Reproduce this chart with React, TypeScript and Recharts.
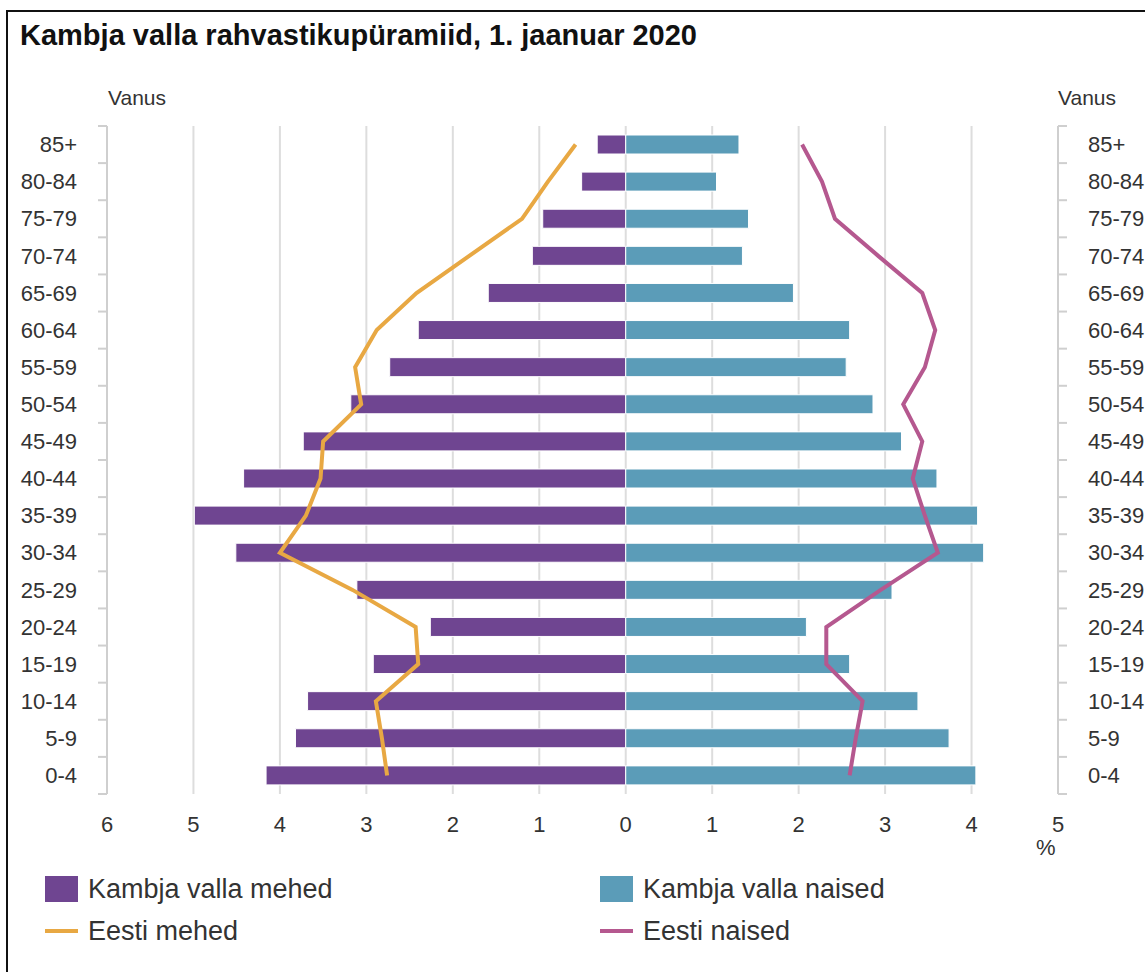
import React from 'react'
import { ComposedChart, Bar, Line, XAxis, YAxis, CartesianGrid } from 'recharts'

const ageGroups = [
  '85+', '80-84', '75-79', '70-74', '65-69', '60-64', '55-59', '50-54', '45-49',
  '40-44', '35-39', '30-34', '25-29', '20-24', '15-19', '10-14', '5-9', '0-4',
]
// Kambja vald, % of population
const kambjaMen = [0.33, 0.51, 0.96, 1.08, 1.59, 2.4, 2.73, 3.18, 3.73, 4.42, 4.99, 4.51, 3.11, 2.26, 2.92, 3.68, 3.82, 4.16]
const kambjaWomen = [1.31, 1.05, 1.42, 1.35, 1.94, 2.59, 2.55, 2.86, 3.19, 3.6, 4.07, 4.14, 3.08, 2.09, 2.59, 3.38, 3.74, 4.05]
// Eesti (whole country), % of population
const estoniaMen = [0.58, 0.9, 1.2, 1.81, 2.42, 2.88, 3.13, 3.06, 3.5, 3.53, 3.7, 4.0, 3.16, 2.43, 2.4, 2.89, 2.82, 2.76]
const estoniaWomen = [2.04, 2.27, 2.42, 2.92, 3.43, 3.58, 3.46, 3.21, 3.43, 3.32, 3.46, 3.61, 2.95, 2.32, 2.32, 2.74, 2.66, 2.59]
const xTicks = [-6, -5, -4, -3, -2, -1, 0, 1, 2, 3, 4, 5]

const PURPLE = '#6f4591'
const BLUE = '#5b9cb8'
const ORANGE = '#e8a843'
const PINK = '#b5588f'
const TEXT = '#333'
const AXIS = '#cfcfcf'

const W = 1145
const H = 972
const TOP = 126
const PLOT_BOTTOM = 794
const BAND = (PLOT_BOTTOM - TOP) / ageGroups.length

const data = ageGroups.map((age, i) => ({
  age,
  men: -kambjaMen[i],
  women: kambjaWomen[i],
  eMen: -estoniaMen[i],
  eWomen: estoniaWomen[i],
}))

function AgeTick(props: any) {
  const { x, y, payload, index, side } = props
  const dir = side === 'left' ? -1 : 1
  const half = BAND / 2
  const last = index === ageGroups.length - 1
  return (
    <g>
      <line x1={x} x2={x + dir * 9} y1={y - half} y2={y - half} stroke={AXIS} strokeWidth={2} />
      {last && <line x1={x} x2={x + dir * 9} y1={y + half} y2={y + half} stroke={AXIS} strokeWidth={2} />}
      <text
        x={x + dir * 30}
        y={y}
        dy="0.35em"
        textAnchor={side === 'left' ? 'end' : 'start'}
        fontSize={22}
        fill={TEXT}
      >
        {payload.value}
      </text>
    </g>
  )
}

const legendItems = [
  { label: 'Kambja valla mehed', color: PURPLE, kind: 'box', left: 45, top: 875 },
  { label: 'Kambja valla naised', color: BLUE, kind: 'box', left: 600, top: 875 },
  { label: 'Eesti mehed', color: ORANGE, kind: 'line', left: 45, top: 917 },
  { label: 'Eesti naised', color: PINK, kind: 'line', left: 600, top: 917 },
]

export default function App() {
  return (
    <div
      style={{
        position: 'absolute',
        left: 0,
        top: 0,
        width: W,
        height: H,
        overflow: 'hidden',
        background: '#fff',
        fontFamily: '"Liberation Sans", Arial, sans-serif',
        color: TEXT,
      }}
    >
      <div
        style={{
          position: 'absolute',
          left: 6,
          top: 10,
          width: 1200,
          height: 1000,
          border: '2px solid #111',
        }}
      />
      <div style={{ position: 'absolute', left: 20, top: 19, fontSize: 29, fontWeight: 'bold', color: '#111' }}>
        Kambja valla rahvastikupüramiid, 1. jaanuar 2020
      </div>
      <div style={{ position: 'absolute', left: 108, top: 86, fontSize: 21 }}>Vanus</div>
      <div style={{ position: 'absolute', left: 1058, top: 86, fontSize: 21 }}>Vanus</div>

      <div style={{ position: 'absolute', left: 0, top: 0 }}>
        <ComposedChart
          width={W}
          height={H}
          data={data}
          layout="vertical"
          stackOffset="sign"
          margin={{ top: TOP, right: 0, bottom: H - PLOT_BOTTOM - 40, left: 0 }}
        >
          <CartesianGrid horizontal={false} stroke="#dddddd" strokeWidth={2} />
          <XAxis
            type="number"
            domain={[-6, 5]}
            ticks={xTicks}
            interval={0}
            tickFormatter={(v: number) => String(Math.abs(v))}
            axisLine={false}
            tickLine={false}
            tickMargin={16}
            height={40}
            tick={{ fontSize: 22, fill: TEXT }}
          />
          <YAxis
            yAxisId="left"
            type="category"
            dataKey="age"
            width={107}
            axisLine={{ stroke: AXIS, strokeWidth: 2 }}
            tickLine={false}
            tickSize={0}
            tickMargin={0}
            interval={0}
            tick={<AgeTick side="left" />}
          />
          <YAxis
            yAxisId="right"
            orientation="right"
            type="category"
            dataKey="age"
            width={87}
            axisLine={{ stroke: AXIS, strokeWidth: 2 }}
            tickLine={false}
            tickSize={0}
            tickMargin={0}
            interval={0}
            tick={<AgeTick side="right" />}
          />
          <Bar yAxisId="left" dataKey="men" stackId="p" fill={PURPLE} stroke="#fff" strokeWidth={1} barSize={19} isAnimationActive={false} />
          <Bar yAxisId="left" dataKey="women" stackId="p" fill={BLUE} stroke="#fff" strokeWidth={1} barSize={19} isAnimationActive={false} />
          <Line yAxisId="left" dataKey="eMen" type="linear" stroke={ORANGE} strokeWidth={4} dot={false} isAnimationActive={false} />
          <Line yAxisId="left" dataKey="eWomen" type="linear" stroke={PINK} strokeWidth={4} dot={false} isAnimationActive={false} />
        </ComposedChart>
      </div>

      <div style={{ position: 'absolute', left: 1036, top: 835, fontSize: 22 }}>%</div>

      {legendItems.map((item) => (
        <div key={item.label} style={{ position: 'absolute', left: item.left, top: item.top, display: 'flex', alignItems: 'center', height: 28 }}>
          {item.kind === 'box' ? (
            <span style={{ display: 'inline-block', width: 33, height: 26, background: item.color }} />
          ) : (
            <span style={{ display: 'inline-block', width: 33, height: 4, background: item.color }} />
          )}
          <span style={{ marginLeft: 10, fontSize: 27, color: TEXT }}>{item.label}</span>
        </div>
      ))}
    </div>
  )
}
